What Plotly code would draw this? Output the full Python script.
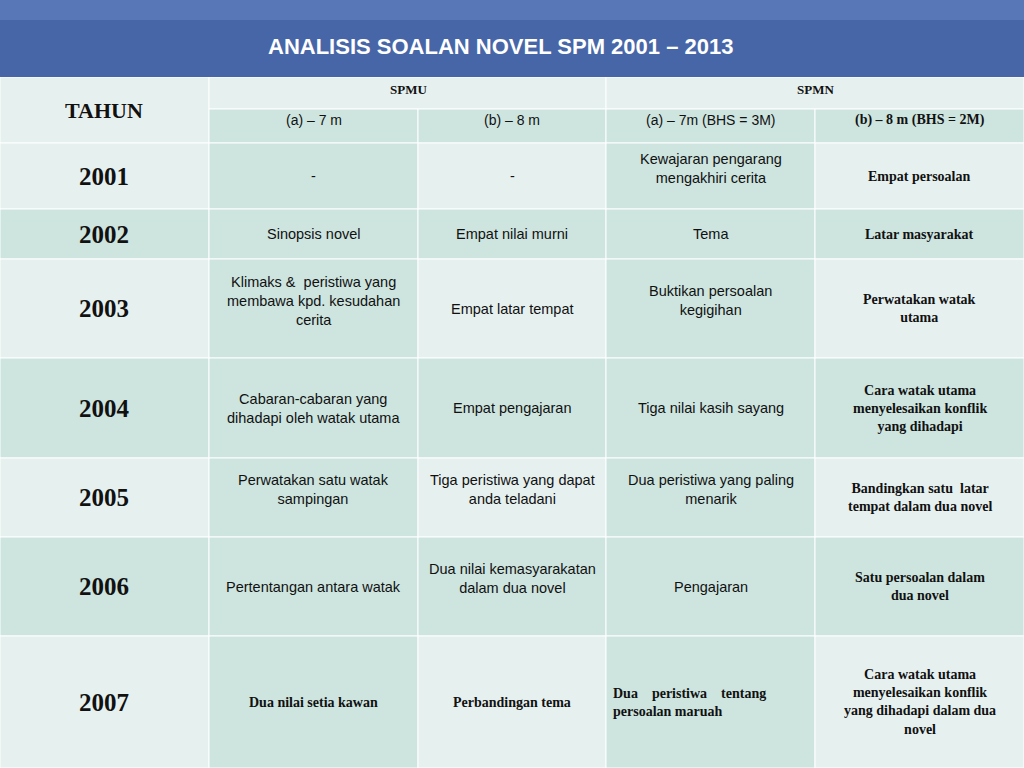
import plotly.graph_objects as go

title = "ANALISIS SOALAN NOVEL SPM 2001 – 2013"
years = ["2001", "2002", "2003", "2004", "2005", "2006", "2007"]
spmu_a = ["-", "Sinopsis novel", "Klimaks &amp;  peristiwa yang<br>membawa kpd. kesudahan<br>cerita",
          "Cabaran-cabaran yang<br>dihadapi oleh watak utama", "Perwatakan satu watak<br>sampingan",
          "Pertentangan antara watak", "Dua nilai setia kawan"]
spmu_b = ["-", "Empat nilai murni", "Empat latar tempat", "Empat pengajaran",
          "Tiga peristiwa yang dapat<br>anda teladani", "Dua nilai kemasyarakatan<br>dalam dua novel",
          "Perbandingan tema"]
spmn_a = ["Kewajaran pengarang<br>mengakhiri cerita", "Tema", "Buktikan persoalan<br>kegigihan",
          "Tiga nilai kasih sayang", "Dua peristiwa yang paling<br>menarik", "Pengajaran",
          "Dua    peristiwa    tentang<br>persoalan maruah"]
spmn_b = ["Empat persoalan", "Latar masyarakat", "Perwatakan watak<br>utama",
          "Cara watak utama<br>menyelesaikan konflik<br>yang dihadapi",
          "Bandingkan satu  latar<br>tempat dalam dua novel", "Satu persoalan dalam<br>dua novel",
          "Cara watak utama<br>menyelesaikan konflik<br>yang dihadapi dalam dua<br>novel"]
headers_top = ["TAHUN", "SPMU", "SPMN"]
headers_sub = ["(a) – 7 m", "(b) – 8 m", "(a) – 7m (BHS = 3M)", "(b) – 8 m (BHS = 2M)"]

cols = [0, 209, 418, 606, 815, 1024]
rows = [143, 209, 259, 358, 458, 537, 636, 768]
LIGHT, DARK = "#e6f0ef", "#cde4df"
SERIF = "Liberation Serif"
SANS = "Liberation Sans"

fig = go.Figure()
shapes, ann = [], []

def rect(x0, y0, x1, y1, c):
    shapes.append(dict(type="rect", x0=x0, x1=x1, y0=y0, y1=y1, fillcolor=c,
                       line=dict(color="white", width=1), layer="below"))

def text(x, y, t, font, size, color="#111", bold=False, align="center", xanchor="center"):
    ann.append(dict(x=x, y=y, text=f"<b>{t}</b>" if bold else t, showarrow=False,
                    font=dict(family=font, size=size, color=color), align=align,
                    xanchor=xanchor, yanchor="middle"))

shapes.append(dict(type="rect", x0=0, x1=1024, y0=0, y1=77, fillcolor="#4766a8", line=dict(width=0)))
shapes.append(dict(type="rect", x0=0, x1=1024, y0=0, y1=20, fillcolor="#5877b6", line=dict(width=0)))
text(500, 46, title, SANS, 22, "white", bold=True)

rect(0, 77, 209, 143, LIGHT)
rect(209, 77, 606, 109, LIGHT)
rect(606, 77, 1024, 109, LIGHT)
for i in range(4):
    rect(cols[i+1], 109, cols[i+2], 143, DARK)
text(104, 110, headers_top[0], SERIF, 22, bold=True)
text(408, 89, headers_top[1], SERIF, 13, bold=True)
text(815, 89, headers_top[2], SERIF, 13, bold=True)
for i, h in enumerate(headers_sub):
    text((cols[i+1]+cols[i+2])/2, 120, h, SANS if i < 3 else SERIF, 14 if i < 3 else 14, bold=(i == 3))

data = [spmu_a, spmu_b, spmn_a, spmn_b]
for r, y in enumerate(years):
    y0, y1 = rows[r], rows[r+1]
    for c in range(5):
        col = DARK if r % 2 == 1 else (LIGHT if c % 2 == 0 else DARK)
        rect(cols[c], y0, cols[c+1], y1, col)
    ym = (y0 + y1) / 2
    text(104, ym, y, SERIF, 25, bold=True)
    for c in range(4):
        t = data[c][r]
        bold = (c == 3) or (r == 6)
        xm = (cols[c+1] + cols[c+2]) / 2
        ytxt = ym - 8 if (c < 3 and not bold and r in (0, 2, 4, 5) and "<br>" in t) else ym
        if bold and c == 2:
            text(cols[c+1] + 5, ytxt, t, SERIF, 14, bold=True, align="left", xanchor="left")
        else:
            text(xm, ytxt, t, SERIF if bold else SANS, 14 if bold else 14.5, bold=bold)

fig.update_layout(width=1024, height=768, margin=dict(l=0, r=0, t=0, b=0),
                  paper_bgcolor="white", plot_bgcolor="white", shapes=shapes, annotations=ann,
                  xaxis=dict(range=[0, 1024], visible=False, fixedrange=True),
                  yaxis=dict(range=[768, 0], visible=False, fixedrange=True),
                  showlegend=False)
fig.write_html("out.html", config={"displayModeBar": False})
with open("out.html", encoding="utf-8") as f:
    html = f.read()
html = html.replace("<head>", "<head><style>html,body{margin:0;padding:0;overflow:hidden;}</style>", 1)
with open("out.html", "w", encoding="utf-8") as f:
    f.write(html)
